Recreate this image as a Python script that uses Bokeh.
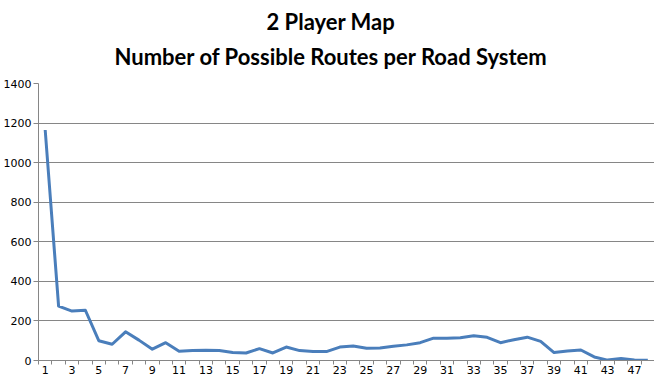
import numpy as np
from bokeh.plotting import figure
from bokeh.models import Range1d, FixedTicker, Title
from bokeh.embed import file_html
from bokeh.resources import INLINE

categories = [str(i) for i in range(1, 45)] + ["47", "48"]
routes = [1165, 275, 250, 254, 100, 82, 145, 103, 57, 90, 47, 50, 52, 50, 40,
          38, 60, 38, 68, 50, 45, 45, 68, 73, 62, 63, 72, 79, 90, 113, 113,
          115, 125, 117, 90, 105, 118, 97, 40, 48, 53, 18, 2, 10, 3, 1]
y_ticks = [0, 200, 400, 600, 800, 1000, 1200, 1400]
title_line1 = "2 Player Map"
title_line2 = "Number of Possible Routes per Road System"

n = len(categories)
positions = list(range(1, n + 1))

GRID = "#868686"
LINE = "#4A7EBB"

p = figure(width=654, height=376, output_backend="svg", toolbar_location=None,
           x_range=Range1d(0.5, n + 0.5), y_range=Range1d(0, 1400),
           min_border_right=0, min_border_left=34, min_border_top=83,
           min_border_bottom=0)
p.title = None
p.outline_line_color = None
p.background_fill_color = "white"
p.border_fill_color = "white"

p.add_layout(Title(text=title_line2, align="left", text_font="Lato",
                   text_font_size="22px", text_font_style="bold",
                   text_color="black", standoff=27, offset=76), "above")
p.add_layout(Title(text=title_line1, align="left", text_font="Lato",
                   text_font_size="22px", text_font_style="bold",
                   text_color="black", standoff=-15, offset=228), "above")

p.line(positions, routes, line_color=LINE, line_width=3, line_join="round")

odd_pos = positions[::2]
xt = FixedTicker(ticks=odd_pos, minor_ticks=[i + 0.5 for i in range(0, n + 1)])
p.xaxis.ticker = xt
p.xaxis.major_label_overrides = {pp: categories[pp - 1] for pp in odd_pos}
p.xaxis.major_tick_out = 0
p.xaxis.major_tick_in = 0
p.xaxis.minor_tick_out = 4
p.xaxis.minor_tick_in = 0
p.xaxis.minor_tick_line_color = GRID
p.xaxis.axis_line_color = GRID
p.xaxis.major_label_standoff = 1

p.yaxis.ticker = FixedTicker(ticks=y_ticks)
p.yaxis.major_tick_out = 5
p.yaxis.major_tick_in = 0
p.yaxis.minor_tick_line_color = None
p.yaxis.major_tick_line_color = GRID
p.yaxis.axis_line_color = GRID
p.yaxis.major_label_standoff = 2

for ax in (p.xaxis, p.yaxis):
    ax.major_label_text_font = "DejaVu Sans"
    ax.major_label_text_font_size = "11px"
    ax.major_label_text_color = "black"

p.xgrid.grid_line_color = None
p.ygrid.grid_line_color = GRID
p.ygrid.grid_line_width = 1

open("out.html", "w").write(file_html(p, INLINE))
